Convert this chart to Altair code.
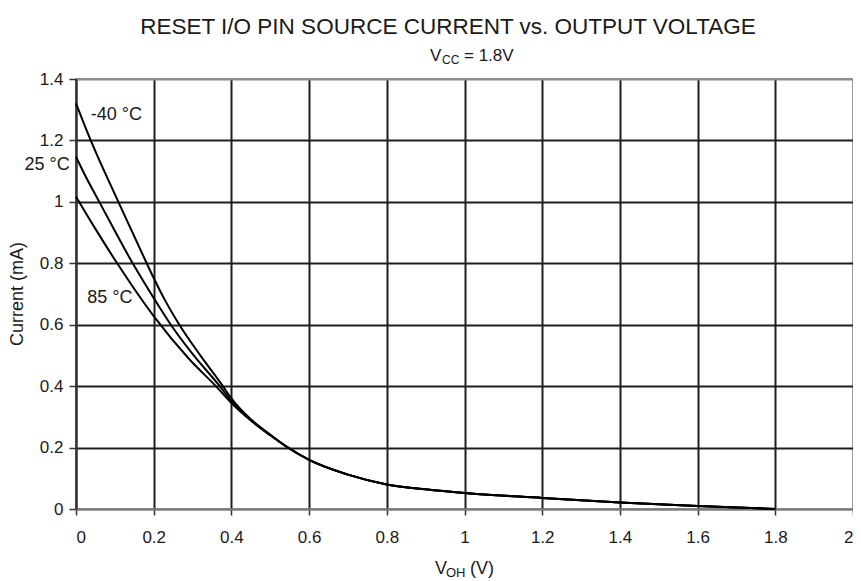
import altair as alt
import pandas as pd

# ---- data ----
v_m40 = [0, 0.038, 0.109, 0.182, 0.2, 0.229, 0.266, 0.32, 0.378, 0.4, 0.45, 0.5,
         0.54, 0.6, 0.7, 0.8, 0.9, 1.0, 1.2, 1.4, 1.6, 1.8]
i_m40 = [1.321, 1.2, 1.0, 0.8, 0.752, 0.68, 0.6, 0.5, 0.4, 0.36, 0.292, 0.242,
         0.205, 0.16, 0.112, 0.08, 0.064, 0.052, 0.036, 0.021, 0.01, 0.0]

v_25 = [0, 0.02, 0.06, 0.146, 0.2, 0.244, 0.3, 0.37, 0.4, 0.45, 0.5,
        0.54, 0.6, 0.7, 0.8, 0.9, 1.0, 1.2, 1.4, 1.6, 1.8]
i_25 = [1.147, 1.095, 1.0, 0.8, 0.687, 0.6, 0.505, 0.4, 0.352, 0.29, 0.241,
        0.205, 0.16, 0.112, 0.08, 0.064, 0.052, 0.036, 0.021, 0.01, 0.0]

v_85 = [0, 0.05, 0.106, 0.2, 0.29, 0.36, 0.4, 0.45, 0.5,
        0.54, 0.6, 0.7, 0.8, 0.9, 1.0, 1.2, 1.4, 1.6, 1.8]
i_85 = [1.017, 0.912, 0.8, 0.628, 0.49, 0.4, 0.345, 0.288, 0.24,
        0.204, 0.16, 0.112, 0.08, 0.064, 0.052, 0.036, 0.021, 0.01, 0.0]

x_ticks = [0, 0.2, 0.4, 0.6, 0.8, 1.0, 1.2, 1.4, 1.6, 1.8, 2.0]
y_ticks = [0, 0.2, 0.4, 0.6, 0.8, 1.0, 1.2, 1.4]

label_text = ["-40 °C", "25 °C", "85 °C"]
label_v = [0.038, -0.016, 0.029]
label_i = [1.283, 1.12, 0.686]
label_align = ["left", "right", "left"]

title_text = "RESET I/O PIN SOURCE CURRENT vs. OUTPUT VOLTAGE"

rows = []
for name, xs, ys in [("-40", v_m40, i_m40), ("25", v_25, i_25), ("85", v_85, i_85)]:
    for x, y in zip(xs, ys):
        rows.append({"series": name, "v": x, "i": y})
df = pd.DataFrame(rows)
lab = pd.DataFrame({"t": label_text, "v": label_v, "i": label_i, "a": label_align})

FONT = "Liberation Sans"
INK = "#1a1a1a"
W, H = 777, 430

xscale = alt.Scale(domain=[0, 2], nice=False)
yscale = alt.Scale(domain=[0, 1.4], nice=False)

xaxis = alt.Axis(
    values=x_ticks, title=None, grid=True, gridWidth=2,
    gridColor={"condition": {"test": "datum.value >= 2", "value": "#9a9a9a"}, "value": "#1e1e1e"},
    tickSize=6, tickColor="#333", tickWidth=1.5, domainColor="#7a7a7a", domainWidth=2,
    labelFont=FONT, labelFontSize=17, labelColor=INK, labelPadding=14,
    labelExpr="format(datum.value, '.1~f')",
)
yaxis = alt.Axis(
    values=y_ticks, title=None, grid=True, gridWidth=2,
    gridColor={"condition": {"test": "datum.value >= 1.4 || datum.value == 0", "value": "#8a8a8a"}, "value": "#1e1e1e"},
    tickSize=7, tickColor="#333", tickWidth=1.5, domainColor="#333", domainWidth=2,
    labelFont=FONT, labelFontSize=17, labelColor=INK, labelPadding=6,
    labelExpr="format(datum.value, '.1~f')",
)

lines = alt.Chart(df).mark_line(color="black", strokeWidth=2, interpolate="monotone").encode(
    x=alt.X("v:Q", scale=xscale, axis=xaxis),
    y=alt.Y("i:Q", scale=yscale, axis=yaxis),
    detail="series:N",
)

lab_left = alt.Chart(lab).transform_filter("datum.a == 'left'").mark_text(
    align="left", baseline="middle", font=FONT, fontSize=18, color=INK
).encode(x=alt.X("v:Q", scale=xscale), y=alt.Y("i:Q", scale=yscale), text="t:N")
lab_right = alt.Chart(lab).transform_filter("datum.a == 'right'").mark_text(
    align="right", baseline="middle", font=FONT, fontSize=18, color=INK
).encode(x=alt.X("v:Q", scale=xscale), y=alt.Y("i:Q", scale=yscale), text="t:N")

def txt(s, x, y, size=17, align="left"):
    return alt.Chart(pd.DataFrame({"t": [s]})).mark_text(
        align=align, baseline="alphabetic", font=FONT, fontSize=size, color=INK
    ).encode(text="t:N", x=alt.value(x), y=alt.value(y))

title = txt(title_text, 372, -45, size=22.5, align="center")
sub_v = txt("V", 354, -18, size=17)
sub_cc = txt("CC", 366, -15, size=12)
sub_rest = txt("= 1.8V", 388, -18, size=17)
xt_v = txt("V", 359, 495, size=18)
xt_oh = txt("OH", 370, 498, size=13)
xt_rest = txt("(V)", 394, 495, size=18)
ytitle = alt.Chart(pd.DataFrame({"t": ["Current (mA)"]})).mark_text(
    align="center", baseline="middle", font=FONT, fontSize=18, color=INK, angle=270
).encode(text="t:N", x=alt.value(-58), y=alt.value(H / 2))

chart = alt.layer(
    lines, lab_left, lab_right, title, sub_v, sub_cc, sub_rest, xt_v, xt_oh, xt_rest, ytitle
).properties(
    width=W, height=H,
    autosize=alt.AutoSizeParams(type="none"),
    padding={"left": 68, "top": 71, "right": 0, "bottom": 72},
).configure_view(stroke="#9a9a9a", strokeWidth=2)

chart.save("out.html", embed_options={"renderer": "svg", "actions": False})
